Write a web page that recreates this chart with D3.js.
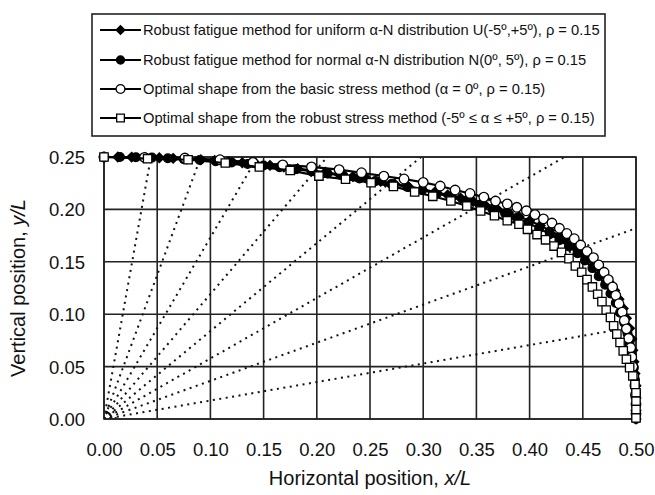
<!DOCTYPE html>
<html><head><meta charset="utf-8">
<script src="https://cdn.jsdelivr.net/npm/d3@7"></script>
<style>
body{margin:0;background:#fff}
text{font-family:"Liberation Sans",Arial,Helvetica,sans-serif;fill:#111}
</style>
</head><body>
<svg id="chart" width="655" height="495"></svg>
<script>
// ---------- data ----------
const xTickValues = [0,0.05,0.10,0.15,0.20,0.25,0.30,0.35,0.40,0.45,0.50];
const yTickValues = [0,0.05,0.10,0.15,0.20,0.25];
const rayAnglesDeg = [10,20,30,40,50,60,70,80];
const originArcRadius = [0.006, 0.011];

const legendLabels = [
  "Robust fatigue method for uniform \u03b1-N distribution U(-5\u00ba,+5\u00ba), \u03c1 = 0.15",
  "Robust fatigue method for normal \u03b1-N distribution N(0\u00ba, 5\u00ba), \u03c1 = 0.15",
  "Optimal shape from the basic stress method (\u03b1 = 0\u00ba, \u03c1 = 0.15)",
  "Optimal shape from the robust stress method (-5\u00ba \u2264 \u03b1 \u2264 +5\u00ba, \u03c1 = 0.15)"
];

const fatigueUniform = [
[0.000,0.2500],[0.013,0.2500],[0.026,0.2499],[0.039,0.2496],[0.052,0.2492],[0.065,0.2487],[0.078,0.2481],[0.091,0.2474],
[0.104,0.2466],[0.117,0.2456],[0.130,0.2445],[0.143,0.2433],[0.156,0.2420],[0.169,0.2405],[0.182,0.2389],[0.195,0.2372],
[0.208,0.2354],[0.221,0.2334],[0.234,0.2313],[0.247,0.2291],[0.260,0.2268],[0.273,0.2244],[0.286,0.2219],[0.299,0.2193],
[0.311,0.2166],[0.323,0.2138],[0.335,0.2108],[0.347,0.2076],[0.358,0.2043],[0.369,0.2008],[0.380,0.1971],[0.390,0.1932],
[0.400,0.1891],[0.410,0.1847],[0.419,0.1800],[0.428,0.1750],[0.436,0.1697],[0.444,0.1641],[0.451,0.1582],[0.458,0.1519],
[0.464,0.1452],[0.470,0.1381],[0.475,0.1306],[0.480,0.1227],[0.484,0.1143],[0.488,0.1055],[0.491,0.0962],[0.494,0.0865],
[0.496,0.0763],[0.497,0.0657],[0.498,0.0547],[0.499,0.0433],[0.500,0.0317],[0.500,0.0200],[0.500,0.0082],[0.500,0.0000]
];
const fatigueNormal = [
[0.000,0.2500],[0.015,0.2500],[0.030,0.2498],[0.045,0.2494],[0.060,0.2488],[0.075,0.2480],[0.090,0.2471],[0.105,0.2460],
[0.120,0.2448],[0.135,0.2434],[0.150,0.2419],[0.165,0.2402],[0.180,0.2384],[0.195,0.2364],[0.210,0.2343],[0.225,0.2320],
[0.240,0.2296],[0.255,0.2270],[0.270,0.2243],[0.285,0.2214],[0.299,0.2184],[0.313,0.2152],[0.327,0.2118],[0.340,0.2082],
[0.353,0.2044],[0.365,0.2004],[0.377,0.1962],[0.388,0.1917],[0.399,0.1869],[0.409,0.1818],[0.419,0.1764],[0.428,0.1707],
[0.437,0.1646],[0.445,0.1581],[0.452,0.1512],[0.459,0.1440],[0.465,0.1363],[0.471,0.1282],[0.476,0.1197],[0.481,0.1108],
[0.485,0.1015],[0.489,0.0918],[0.492,0.0817],[0.494,0.0712],[0.496,0.0603],[0.498,0.0490],[0.499,0.0374],[0.500,0.0256],
[0.500,0.0136],[0.500,0.0000]
];
const basicStress = [
[0.000,0.2500],[0.038,0.2497],[0.076,0.2490],[0.109,0.2474],[0.140,0.2448],[0.168,0.2424],[0.195,0.2405],[0.221,0.2380],
[0.242,0.2350],[0.263,0.2318],[0.282,0.2290],[0.300,0.2258],[0.316,0.2223],[0.330,0.2185],[0.344,0.2152],[0.357,0.2117],
[0.368,0.2080],[0.379,0.2052],[0.388,0.2020],[0.397,0.1987],[0.405,0.1950],[0.413,0.1910],[0.421,0.1870],[0.428,0.1820],
[0.435,0.1770],[0.442,0.1720],[0.448,0.1660],[0.454,0.1600],[0.460,0.1540],[0.465,0.1470],[0.470,0.1400],[0.474,0.1330],
[0.478,0.1260],[0.481,0.1180],[0.484,0.1100],[0.487,0.1020],[0.489,0.0940],[0.491,0.0860],[0.493,0.0770],[0.495,0.0680],
[0.496,0.0590],[0.497,0.0500],[0.498,0.0410],[0.499,0.0320],[0.4995,0.0230],[0.500,0.0140],[0.500,0.0050]
];
const robustStress = [
[0.000,0.2500],[0.041,0.2484],[0.079,0.2474],[0.114,0.2443],[0.146,0.2405],[0.175,0.2372],[0.202,0.2318],[0.227,0.2288],
[0.251,0.2255],[0.272,0.2220],[0.292,0.2166],[0.309,0.2125],[0.326,0.2080],[0.341,0.2033],[0.354,0.1985],[0.367,0.1940],
[0.379,0.1892],[0.390,0.1858],[0.398,0.1810],[0.407,0.1760],[0.415,0.1710],[0.423,0.1650],[0.430,0.1590],[0.437,0.1530],
[0.443,0.1460],[0.449,0.1400],[0.454,0.1330],[0.459,0.1260],[0.464,0.1190],[0.468,0.1120],[0.472,0.1040],[0.476,0.0970],
[0.479,0.0890],[0.482,0.0810],[0.485,0.0730],[0.488,0.0650],[0.491,0.0570],[0.494,0.0490],[0.497,0.0410],[0.499,0.0330],
[0.500,0.0250],[0.500,0.0170],[0.500,0.0090],[0.500,0.0010]
];

// ---------- layout ----------
const svg = d3.select("#chart");
const M = {left:104, right:636, top:157, bottom:419};
const x = d3.scaleLinear().domain([0,0.5]).range([M.left, M.right]);
const y = d3.scaleLinear().domain([0,0.25]).range([M.bottom, M.top]);

svg.append("defs").append("clipPath").attr("id","plotclip")
  .append("rect").attr("x",M.left).attr("y",M.top)
  .attr("width",M.right-M.left).attr("height",M.bottom-M.top);

// grid
const grid = svg.append("g").attr("stroke","#222").attr("stroke-width",1.6);
grid.selectAll("line.v").data(xTickValues).join("line")
  .attr("x1",d=>x(d)).attr("x2",d=>x(d)).attr("y1",M.top).attr("y2",M.bottom);
grid.selectAll("line.h").data(yTickValues).join("line")
  .attr("y1",d=>y(d)).attr("y2",d=>y(d)).attr("x1",M.left).attr("x2",M.right);

// rays
const rays = svg.append("g").attr("clip-path","url(#plotclip)")
  .attr("stroke","#111").attr("stroke-width",2).attr("stroke-dasharray","2,4.5").attr("fill","none");
rayAnglesDeg.forEach(a=>{
  const t = a*Math.PI/180;
  const r = Math.min(0.5/Math.cos(t), 0.25/Math.sin(t));
  rays.append("line").attr("x1",x(0)).attr("y1",y(0))
    .attr("x2",x(r*Math.cos(t))).attr("y2",y(r*Math.sin(t)));
});
originArcRadius.forEach(r=>{
  const pts = d3.range(0,91,5).map(a=>[r*Math.cos(a*Math.PI/180), r*Math.sin(a*Math.PI/180)]);
  rays.append("path").attr("d", d3.line().x(d=>x(d[0])).y(d=>y(d[1]))(pts));
});

// axis labels
const axX = d3.axisBottom(x).tickValues(xTickValues).tickFormat(d3.format(".2f")).tickSize(0).tickPadding(0);
const gx = svg.append("g").attr("transform",`translate(0,${M.bottom})`).call(axX);
gx.select(".domain").remove();
gx.selectAll("text").attr("dy",null).attr("y",37).style("font-size","18.5px").style("font-family","Liberation Sans, Arial, sans-serif").attr("fill","#111");
const axY = d3.axisLeft(y).tickValues(yTickValues).tickFormat(d3.format(".2f")).tickSize(0).tickPadding(0);
const gy = svg.append("g").attr("transform",`translate(${M.left},0)`).call(axY);
gy.select(".domain").remove();
gy.selectAll("text").attr("x",-19).attr("dy","0.35em").style("font-size","18.5px").style("font-family","Liberation Sans, Arial, sans-serif").attr("fill","#111");

// axis titles
const xt = svg.append("text").attr("x",(M.left+M.right)/2).attr("y",485).attr("text-anchor","middle").style("font-size","20px");
xt.append("tspan").text("Horizontal position, ");
xt.append("tspan").attr("font-style","italic").text("x/L");
const yt = svg.append("text").attr("transform",`translate(25,${(M.top+M.bottom)/2}) rotate(-90)`).attr("text-anchor","middle").style("font-size","20px");
yt.append("tspan").text("Vertical position, ");
yt.append("tspan").attr("font-style","italic").text("y/L");

// plot border
svg.append("rect").attr("x",M.left).attr("y",M.top).attr("width",M.right-M.left).attr("height",M.bottom-M.top)
  .attr("fill","none").attr("stroke","#222").attr("stroke-width",1.6);

// series
const line = d3.line().x(d=>x(d[0])).y(d=>y(d[1]));
const series = [
  {data:fatigueUniform, sym:d3.symbolSquare, rot:45, size:46, fill:"#000"},
  {data:fatigueNormal,  sym:d3.symbolCircle, rot:0,  size:60, fill:"#000"},
  {data:basicStress,    sym:d3.symbolCircle, rot:0,  size:72, fill:"#fff"},
  {data:robustStress,   sym:d3.symbolSquare, rot:0,  size:70, fill:"#fff"}
];
series.forEach(s=>{
  const g = svg.append("g");
  g.append("path").attr("d",line(s.data)).attr("fill","none").attr("stroke","#000").attr("stroke-width",2.2);
  g.selectAll("path.m").data(s.data).join("path").attr("class","m")
    .attr("transform",d=>`translate(${x(d[0])},${y(d[1])}) rotate(${s.rot})`)
    .attr("d",d3.symbol().type(s.sym).size(s.size)())
    .attr("fill",s.fill).attr("stroke","#000").attr("stroke-width",1.3);
});

// legend
const L = {x:92, y:14, w:513, h:122};
svg.append("rect").attr("x",L.x).attr("y",L.y).attr("width",L.w).attr("height",L.h)
  .attr("fill","#fff").attr("stroke","#222").attr("stroke-width",1.6);
const rowsY = [30,60,89,118];
const lg = svg.append("g");
series.forEach((s,i)=>{
  const ry = rowsY[i];
  lg.append("line").attr("x1",100).attr("x2",141).attr("y1",ry).attr("y2",ry).attr("stroke","#000").attr("stroke-width",2.2);
  lg.append("path").attr("transform",`translate(120.5,${ry}) rotate(${s.rot})`).attr("d",d3.symbol().type(s.sym).size(s.size*0.85)())
    .attr("fill",s.fill).attr("stroke","#000").attr("stroke-width",1.3);
  lg.append("text").attr("class","lt").attr("x",143).attr("y",ry).attr("dy","0.35em").style("font-size","15px").text(legendLabels[i]);
});
// fit legend font so the first label spans the measured width
const first = lg.select("text.lt").node();
const w0 = first.getComputedTextLength();
const fs = 15*457/w0;
lg.selectAll("text.lt").style("font-size",fs.toFixed(2)+"px");
</script>
</body></html>
